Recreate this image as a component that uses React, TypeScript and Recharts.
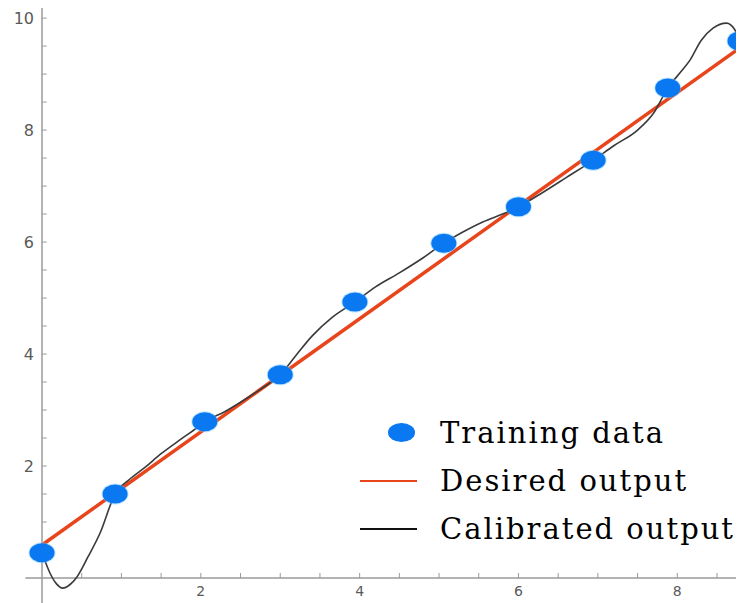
import React from "react";
import {
  ComposedChart,
  Line,
  Scatter,
  XAxis,
  YAxis,
  ReferenceLine,
  Legend,
} from "recharts";

// training samples (blue dots)
const trainX = [0, 0.92, 2.05, 3.0, 3.94, 5.06, 6.0, 6.94, 7.88, 8.79];
const trainY = [0.45, 1.5, 2.79, 3.63, 4.93, 5.98, 6.63, 7.46, 8.75, 9.59];

// desired output (straight red line)
const desiredX = [0, 8.84];
const desiredY = [0.59, 9.52];

// calibrated output (black curve)
const calibX = [
  0, 0.1, 0.18, 0.26, 0.35, 0.44, 0.58, 0.73, 0.92, 1.1, 1.3, 1.5, 1.75, 1.95,
  2.05, 2.3, 2.5, 2.75, 3.0, 3.2, 3.4, 3.65, 3.94, 4.2, 4.5, 4.8, 5.06, 5.3,
  5.55, 5.8, 6.0, 6.3, 6.6, 6.94, 7.2, 7.5, 7.7, 7.88, 8.05, 8.16, 8.3, 8.45,
  8.62, 8.72, 8.79, 8.84,
];
const calibY = [
  0.45, 0.09, -0.1, -0.18, -0.12, 0.02, 0.38, 0.8, 1.5, 1.76, 1.98, 2.22, 2.48,
  2.68, 2.79, 2.97, 3.14, 3.37, 3.63, 3.98, 4.32, 4.65, 4.93, 5.2, 5.45, 5.72,
  5.98, 6.18, 6.36, 6.5, 6.63, 6.88, 7.15, 7.46, 7.72, 8.0, 8.3, 8.75, 9.05,
  9.25, 9.6, 9.82, 9.91, 9.8, 9.59, 9.4,
];

// axis ticks
const xTicks = [2, 4, 6, 8];
const xMinorTicks = [
  0.5, 1, 1.5, 2, 2.5, 3, 3.5, 4, 4.5, 5, 5.5, 6, 6.5, 7, 7.5, 8, 8.5,
];
const yTicks = [2, 4, 6, 8, 10];
const yMinorTicks = [
  0.5, 1, 1.5, 2, 2.5, 3, 3.5, 4, 4.5, 5, 5.5, 6, 6.5, 7, 7.5, 8, 8.5, 9, 9.5,
  10,
];

const seriesNames = ["Training data", "Desired output", "Calibrated output"];

const BLUE = "#0a78f0";
const RED = "#e8451c";
const BLACK = "#3a3a3a";
const AXIS = "#9a9a9a";
const LABEL = "#5a5a5a";

const trainData = trainX.map((x, i) => ({ x, y: trainY[i] }));
const desiredData = desiredX.map((x, i) => ({ x, y: desiredY[i] }));
const calibData = calibX.map((x, i) => ({ x, y: calibY[i] }));

const Dot = (props: any) => {
  const { cx, cy } = props;
  return (
    <g>
      <ellipse cx={cx} cy={cy} rx={13.5} ry={10.5} fill="#6cc4ff" opacity={0.45} />
      <ellipse cx={cx} cy={cy} rx={12.5} ry={9.5} fill={BLUE} />
    </g>
  );
};

const LegendBox = () => {
  const row: React.CSSProperties = {
    display: "flex",
    alignItems: "center",
    height: 48,
  };
  const text: React.CSSProperties = {
    fontFamily: "'DejaVu Serif', serif",
    fontSize: 29,
    letterSpacing: 2,
    color: "#000",
    whiteSpace: "nowrap",
  };
  return (
    <div>
      {seriesNames.map((name, i) => (
        <div key={name} style={row}>
          <div style={{ width: 88, position: "relative", height: 48 }}>
            {i === 0 ? (
              <div
                style={{
                  position: "absolute",
                  left: 36,
                  top: 14,
                  width: 27,
                  height: 19,
                  borderRadius: "50%",
                  background: BLUE,
                }}
              />
            ) : (
              <div
                style={{
                  position: "absolute",
                  left: 8,
                  top: 23,
                  width: 57,
                  height: 2,
                  background: i === 1 ? RED : "#111",
                }}
              />
            )}
          </div>
          <span style={text}>{name}</span>
        </div>
      ))}
    </div>
  );
};

export default function App() {
  return (
    <ComposedChart
      width={736}
      height={595}
      margin={{ top: 0, right: 0, bottom: 0, left: 0 }}
      style={{ background: "#fff" }}
    >
      <XAxis type="number" dataKey="x" domain={[0, 8.84]} hide />
      <YAxis
        type="number"
        dataKey="y"
        domain={[-0.446, 10.18]}
        ticks={yTicks}
        width={34}
        tickLine={false}
        axisLine={{ stroke: AXIS, strokeWidth: 1.5 }}
        tick={{ fill: LABEL, fontSize: 16, fontFamily: "DejaVu Sans" }}
        allowDataOverflow
      />
      <ReferenceLine
        segment={[
          { x: -0.21, y: 0 },
          { x: 8.84, y: 0 },
        ]}
        stroke={AXIS}
        strokeWidth={1.5}
        ifOverflow="visible"
      />
      {xMinorTicks.map((t) => (
        <ReferenceLine
          key={"xt" + t}
          segment={[
            { x: t, y: 0 },
            { x: t, y: 0.09 },
          ]}
          stroke={AXIS}
          strokeWidth={1}
          ifOverflow="visible"
          label={
            xTicks.includes(t)
              ? {
                  value: String(t),
                  position: "bottom",
                  offset: 8,
                  fill: LABEL,
                  fontSize: 14,
                  fontFamily: "DejaVu Sans",
                }
              : undefined
          }
        />
      ))}
      {yMinorTicks.map((t) => (
        <ReferenceLine
          key={"yt" + t}
          segment={[
            { x: 0, y: t },
            { x: 0.06, y: t },
          ]}
          stroke={AXIS}
          strokeWidth={1}
          ifOverflow="visible"
        />
      ))}
      <Line
        data={desiredData}
        dataKey="y"
        name="Desired output"
        stroke={RED}
        strokeWidth={3.5}
        dot={false}
        activeDot={false}
        type="linear"
        isAnimationActive={false}
      />
      <Line
        data={calibData}
        dataKey="y"
        name="Calibrated output"
        stroke={BLACK}
        strokeWidth={1.6}
        dot={false}
        activeDot={false}
        type="monotone"
        isAnimationActive={false}
      />
      <Scatter
        data={trainData}
        dataKey="y"
        name="Training data"
        fill={BLUE}
        shape={<Dot />}
        isAnimationActive={false}
      />
      <Legend
        layout="vertical"
        align="center"
        verticalAlign="middle"
        content={<LegendBox />}
        wrapperStyle={{ left: 344, top: 401, width: 400, height: 150 }}
      />
    </ComposedChart>
  );
}
